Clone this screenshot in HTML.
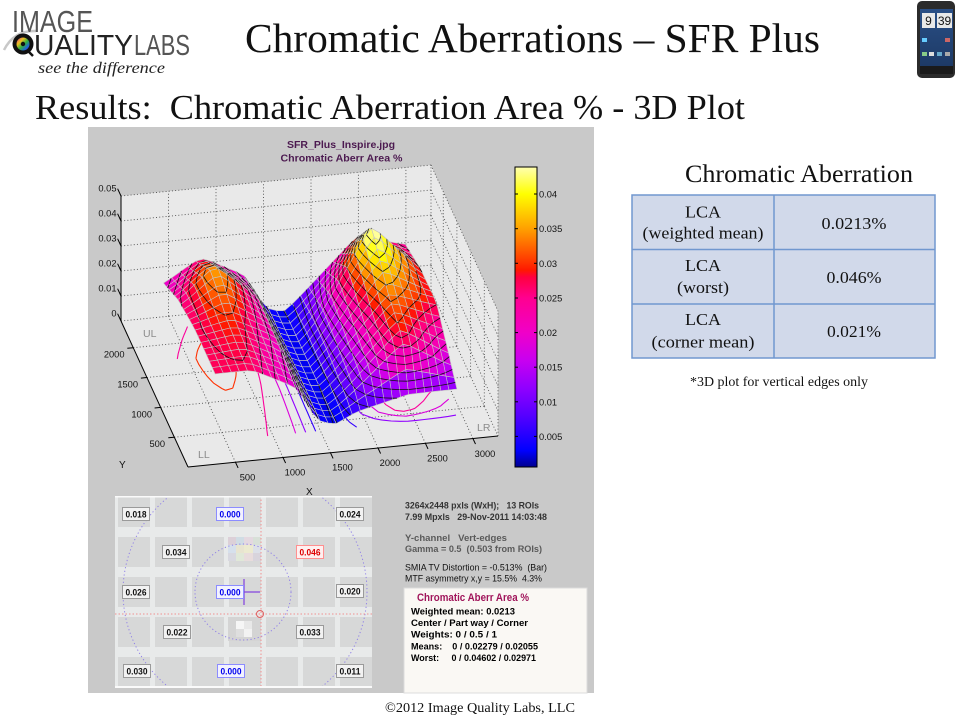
<!DOCTYPE html>
<html><head><meta charset="utf-8"><style>
html,body{margin:0;padding:0;background:#fff;}
body{width:960px;height:720px;overflow:hidden;}
svg{display:block;}
text{font-family:"Liberation Sans",Arial,sans-serif;}
.serif{font-family:"Liberation Serif","Times New Roman",serif;}
.pre{white-space:pre;}
</style></head><body>
<svg id="s" width="960" height="720" viewBox="0 0 960 720" xmlns="http://www.w3.org/2000/svg">
<defs>
 <linearGradient id="cb" x1="0" y1="0" x2="0" y2="1">
  <stop offset="0" stop-color="#ffffb0"/>
  <stop offset="0.09" stop-color="#ffff00"/>
  <stop offset="0.2055" stop-color="#ffa000"/>
  <stop offset="0.321" stop-color="#ff3000"/>
  <stop offset="0.344" stop-color="#ff1800"/>
  <stop offset="0.367" stop-color="#ff0040"/>
  <stop offset="0.4365" stop-color="#ff0090"/>
  <stop offset="0.552" stop-color="#f000c8"/>
  <stop offset="0.644" stop-color="#c800f0"/>
  <stop offset="0.737" stop-color="#9000ff"/>
  <stop offset="0.829" stop-color="#5500ff"/>
  <stop offset="0.9446" stop-color="#0000ff"/>
  <stop offset="1" stop-color="#000090"/>
 </linearGradient>
 <linearGradient id="iris" x1="0" y1="0" x2="1" y2="1">
  <stop offset="0" stop-color="#e03090"/>
  <stop offset="0.3" stop-color="#f0c020"/>
  <stop offset="0.55" stop-color="#30b040"/>
  <stop offset="0.8" stop-color="#2060e0"/>
  <stop offset="1" stop-color="#8030c0"/>
 </linearGradient>
 <linearGradient id="scr" x1="0" y1="0" x2="0" y2="1">
  <stop offset="0" stop-color="#2a4f86"/>
  <stop offset="1" stop-color="#1d3a66"/>
 </linearGradient>
 <clipPath id="imgclip"><rect x="115" y="496" width="257" height="192"/></clipPath>
</defs>

<!-- Logo -->
<path d="M4,50 Q14,30 36,31" stroke="#c8c8c8" stroke-width="2.5" fill="none"/>
<text x="12" y="32" font-size="31" fill="#555" textLength="81" lengthAdjust="spacingAndGlyphs">IMAGE</text>
<circle cx="23" cy="44" r="10.5" fill="#111"/>
<circle cx="23" cy="44" r="6.5" fill="url(#iris)"/>
<circle cx="23" cy="44" r="2.2" fill="#111"/>
<path d="M28,51 L33,56" stroke="#111" stroke-width="2.5"/>
<text x="34" y="55" font-size="29" fill="#222" textLength="99" lengthAdjust="spacingAndGlyphs">UALITY</text>
<text x="134" y="55" font-size="29" fill="#555" textLength="56" lengthAdjust="spacingAndGlyphs">LABS</text>
<text class="serif" x="38" y="73" font-size="16" font-style="italic" fill="#222" textLength="127" lengthAdjust="spacingAndGlyphs">see the difference</text>

<!-- Phone -->
<rect x="917" y="1" width="38" height="77" rx="5" fill="#2b2b2b"/>
<rect x="920" y="9" width="33" height="57" fill="url(#scr)"/>
<rect x="922" y="13" width="13" height="15" fill="#e8e8e8"/>
<text x="928.5" y="25" font-size="12" text-anchor="middle" fill="#111">9</text>
<rect x="937" y="13" width="15" height="15" fill="#e8e8e8"/>
<text x="944.5" y="25" font-size="12" text-anchor="middle" fill="#111">39</text>
<rect x="922" y="38" width="5" height="4" fill="#6cf"/><rect x="945" y="38" width="5" height="4" fill="#c66"/>
<rect x="922" y="52" width="5" height="4" fill="#8c8"/><rect x="929" y="52" width="5" height="4" fill="#ddd"/><rect x="937" y="52" width="5" height="4" fill="#6ac"/><rect x="945" y="52" width="5" height="4" fill="#aaa"/>
<rect x="920" y="66" width="33" height="8" fill="#1a1a1a"/>

<!-- Titles -->
<text class="serif" x="245" y="52" font-size="41" fill="#111" textLength="575" lengthAdjust="spacingAndGlyphs">Chromatic Aberrations – SFR Plus</text>
<text class="serif pre" x="35" y="119" font-size="35" fill="#111" textLength="710" lengthAdjust="spacingAndGlyphs">Results:  Chromatic Aberration Area % - 3D Plot</text>

<!-- Plot panel -->
<rect x="88" y="127" width="506" height="566" fill="#c9c9c9"/>
<g id="walls"></g>
<g font-size="10.5" fill="#8c8c8c">
 <text x="143" y="337">UL</text>
 <text x="198" y="458">LL</text>
 <text x="477" y="431">LR</text>
 <text x="422" y="309">UR</text>
</g>
<g id="floorc"></g>
<g id="surf"></g>
<g id="axes"></g>
<g font-size="9.3" fill="#111">
 <text x="116.5" y="191.5" text-anchor="end">0.05</text>
 <text x="116.5" y="216.5" text-anchor="end">0.04</text>
 <text x="116.5" y="241.5" text-anchor="end">0.03</text>
 <text x="116.5" y="266.5" text-anchor="end">0.02</text>
 <text x="116.5" y="291.5" text-anchor="end">0.01</text>
 <text x="116.5" y="316.5" text-anchor="end">0</text>
 <text x="165" y="447" text-anchor="end">500</text>
 <text x="152" y="417.5" text-anchor="end">1000</text>
 <text x="138" y="387.5" text-anchor="end">1500</text>
 <text x="124.5" y="357.5" text-anchor="end">2000</text>
 <text x="247.5" y="480.5" text-anchor="middle">500</text>
 <text x="295" y="475.5" text-anchor="middle">1000</text>
 <text x="342.5" y="470.5" text-anchor="middle">1500</text>
 <text x="390" y="466" text-anchor="middle">2000</text>
 <text x="437.5" y="461.5" text-anchor="middle">2500</text>
 <text x="485" y="457" text-anchor="middle">3000</text>
 <text x="119" y="468" font-size="10">Y</text>
 <text x="306" y="495" font-size="10">X</text>
</g>
<text x="341" y="148" font-size="10.5" font-weight="bold" fill="#4c1a50" text-anchor="middle" textLength="108" lengthAdjust="spacingAndGlyphs">SFR_Plus_Inspire.jpg</text>
<text x="341.5" y="161.5" font-size="10.5" font-weight="bold" fill="#4c1a50" text-anchor="middle" textLength="122" lengthAdjust="spacingAndGlyphs">Chromatic Aberr Area %</text>

<!-- Colorbar -->
<rect x="515" y="167" width="22" height="300" fill="url(#cb)" stroke="#000" stroke-width="1"/>
<g stroke="#000" stroke-width="1">
 <line x1="515" y1="194" x2="518" y2="194"/><line x1="534" y1="194" x2="537" y2="194"/>
 <line x1="515" y1="228.7" x2="518" y2="228.7"/><line x1="534" y1="228.7" x2="537" y2="228.7"/>
 <line x1="515" y1="263.3" x2="518" y2="263.3"/><line x1="534" y1="263.3" x2="537" y2="263.3"/>
 <line x1="515" y1="298" x2="518" y2="298"/><line x1="534" y1="298" x2="537" y2="298"/>
 <line x1="515" y1="332.6" x2="518" y2="332.6"/><line x1="534" y1="332.6" x2="537" y2="332.6"/>
 <line x1="515" y1="367.2" x2="518" y2="367.2"/><line x1="534" y1="367.2" x2="537" y2="367.2"/>
 <line x1="515" y1="401.8" x2="518" y2="401.8"/><line x1="534" y1="401.8" x2="537" y2="401.8"/>
 <line x1="515" y1="436.4" x2="518" y2="436.4"/><line x1="534" y1="436.4" x2="537" y2="436.4"/>
</g>
<g font-size="9.3" fill="#111">
 <text x="539" y="197.5">0.04</text>
 <text x="539" y="232.2">0.035</text>
 <text x="539" y="266.8">0.03</text>
 <text x="539" y="301.5">0.025</text>
 <text x="539" y="336.1">0.02</text>
 <text x="539" y="370.7">0.015</text>
 <text x="539" y="405.3">0.01</text>
 <text x="539" y="439.9">0.005</text>
</g>

<!-- Chart image panel -->
<g clip-path="url(#imgclip)">
 <rect x="115" y="496" width="257" height="192" fill="#e8eaea"/>
 <g id="sq" fill="#d7d8d8"></g>
 <g>
  <rect x="228" y="537" width="8" height="8" fill="#dcd0d8"/><rect x="236" y="537" width="8" height="8" fill="#d0dce4"/><rect x="244" y="537" width="9" height="8" fill="#e4d8e0"/><rect x="253" y="537" width="8" height="8" fill="#d8e0d8"/>
  <rect x="228" y="545" width="8" height="8" fill="#d6e0ec"/><rect x="236" y="545" width="8" height="8" fill="#e8e4d0"/><rect x="244" y="545" width="9" height="8" fill="#ecead0"/><rect x="253" y="545" width="8" height="8" fill="#dce0e8"/>
  <rect x="228" y="553" width="8" height="8" fill="#d8d8e0"/><rect x="236" y="553" width="8" height="8" fill="#e0e8d8"/><rect x="244" y="553" width="9" height="8" fill="#e8dcdc"/><rect x="253" y="553" width="8" height="8" fill="#d8d4dc"/>
  <rect x="228" y="617" width="33" height="24" fill="#d4d4d4"/>
  <rect x="236" y="621" width="8" height="8" fill="#f6f6f6"/><rect x="244" y="621" width="8" height="8" fill="#e8e8e8"/><rect x="236" y="629" width="8" height="8" fill="#dedede"/><rect x="244" y="629" width="8" height="8" fill="#f2f2f2"/>
 </g>
 <circle cx="245" cy="592" r="122" fill="none" stroke="#9080e8" stroke-width="1" stroke-dasharray="1.2 2.5"/>
 <circle cx="243" cy="592" r="48" fill="none" stroke="#9080e8" stroke-width="1" stroke-dasharray="1.2 2.5"/>
 <line x1="261" y1="496" x2="261" y2="688" stroke="#f09090" stroke-width="1" stroke-dasharray="1.5 2"/>
 <line x1="115" y1="614" x2="372" y2="614" stroke="#f09090" stroke-width="1" stroke-dasharray="1.5 2"/>
 <circle cx="260" cy="614" r="3.5" fill="none" stroke="#e06060" stroke-width="1"/>
 <line x1="244" y1="579" x2="244" y2="605" stroke="#8040e0" stroke-width="1.2"/>
 <line x1="244" y1="592" x2="260" y2="592" stroke="#8040e0" stroke-width="1.2"/>
 <rect x="115" y="495" width="257" height="2.5" fill="#fafafa"/>
 <rect x="115" y="686" width="257" height="2.5" fill="#fafafa"/>
</g>
<g id="lbls" font-size="9.5" font-weight="bold" text-anchor="middle"></g>

<!-- Text area -->
<g font-size="9.5">
 <text class="pre" x="405" y="508.5" font-weight="bold" fill="#333" textLength="134" lengthAdjust="spacingAndGlyphs">3264x2448 pxls (WxH);   13 ROIs</text>
 <text class="pre" x="405" y="520" font-weight="bold" fill="#333" textLength="142" lengthAdjust="spacingAndGlyphs">7.99 Mpxls   29-Nov-2011 14:03:48</text>
 <text class="pre" x="405" y="541" font-weight="bold" fill="#5a5a5a" textLength="102" lengthAdjust="spacingAndGlyphs">Y-channel   Vert-edges</text>
 <text class="pre" x="405" y="552" font-weight="bold" fill="#5a5a5a" textLength="137" lengthAdjust="spacingAndGlyphs">Gamma = 0.5  (0.503 from ROIs)</text>
 <text class="pre" x="405" y="570.5" fill="#111" textLength="142" lengthAdjust="spacingAndGlyphs">SMIA TV Distortion = -0.513%  (Bar)</text>
 <text class="pre" x="405" y="581.5" fill="#111" textLength="137" lengthAdjust="spacingAndGlyphs">MTF asymmetry x,y = 15.5%  4.3%</text>
</g>
<rect x="404" y="588" width="183" height="105" fill="#faf8f4" stroke="#dcdcdc" stroke-width="1"/>
<text x="417" y="601" font-size="11" font-weight="bold" fill="#a0145a" textLength="112" lengthAdjust="spacingAndGlyphs">Chromatic Aberr Area %</text>
<g font-size="9.5" font-weight="bold" fill="#000">
 <text x="411" y="614.5" textLength="104" lengthAdjust="spacingAndGlyphs">Weighted mean: 0.0213</text>
 <text x="411" y="626" textLength="117" lengthAdjust="spacingAndGlyphs">Center / Part way / Corner</text>
 <text x="411" y="637.5" textLength="86" lengthAdjust="spacingAndGlyphs">Weights: 0 / 0.5 / 1</text>
 <text class="pre" x="411" y="649.5" textLength="127" lengthAdjust="spacingAndGlyphs">Means:    0 / 0.02279 / 0.02055</text>
 <text class="pre" x="411" y="661" textLength="125" lengthAdjust="spacingAndGlyphs">Worst:     0 / 0.04602 / 0.02971</text>
</g>

<!-- Table -->
<text class="serif" x="685" y="182" font-size="25" fill="#111" textLength="228" lengthAdjust="spacingAndGlyphs">Chromatic Aberration</text>
<rect x="632" y="195" width="303" height="163" fill="#d1d9ea"/>
<g stroke="#7197cf" stroke-width="1.5" fill="none">
 <rect x="632" y="195" width="303" height="163"/>
 <line x1="632" y1="249.5" x2="935" y2="249.5"/>
 <line x1="632" y1="304" x2="935" y2="304"/>
 <line x1="774" y1="195" x2="774" y2="358"/>
</g>
<g class="serif" font-size="17" fill="#111" text-anchor="middle">
 <text class="serif" x="703" y="217.5" textLength="36" lengthAdjust="spacingAndGlyphs">LCA</text>
 <text class="serif" x="703" y="238.5" textLength="121" lengthAdjust="spacingAndGlyphs">(weighted mean)</text>
 <text class="serif" x="703" y="271" textLength="36" lengthAdjust="spacingAndGlyphs">LCA</text>
 <text class="serif" x="703" y="293" textLength="52" lengthAdjust="spacingAndGlyphs">(worst)</text>
 <text class="serif" x="703" y="325" textLength="36" lengthAdjust="spacingAndGlyphs">LCA</text>
 <text class="serif" x="703" y="347.5" textLength="103" lengthAdjust="spacingAndGlyphs">(corner mean)</text>
 <text class="serif" x="854" y="229" textLength="65" lengthAdjust="spacingAndGlyphs">0.0213%</text>
 <text class="serif" x="854" y="283" textLength="55" lengthAdjust="spacingAndGlyphs">0.046%</text>
 <text class="serif" x="854" y="337" textLength="54" lengthAdjust="spacingAndGlyphs">0.021%</text>
</g>
<text class="serif" x="690" y="386" font-size="14" fill="#111" textLength="178" lengthAdjust="spacingAndGlyphs">*3D plot for vertical edges only</text>

<!-- Footer -->
<text class="serif" x="385" y="712" font-size="14" fill="#111" textLength="190" lengthAdjust="spacingAndGlyphs">©2012 Image Quality Labs, LLC</text>
</svg>

<script>
(function(){
const NS='http://www.w3.org/2000/svg';
function el(tag,attrs,parent){const e=document.createElementNS(NS,tag);for(const k in attrs)e.setAttribute(k,attrs[k]);parent.appendChild(e);return e;}
function P(a,b,z){return [188+310*a-67*b, 467-31*a-146*b-2500*z];}
function f(p){return p[0].toFixed(1)+','+p[1].toFixed(1);}
function L(p,q,st,parent){el('line',Object.assign({x1:p[0].toFixed(1),y1:p[1].toFixed(1),x2:q[0].toFixed(1),y2:q[1].toFixed(1)},st),parent);}

// walls
const walls=document.getElementById('walls');
el('path',{d:'M'+f(P(0,0,0))+'L'+f(P(1,0,0))+'L'+f(P(1,0,0.05))+'L'+f(P(1,1,0.05))+'L'+f(P(0,1,0.05))+'L'+f(P(0,1,0))+'Z',fill:'#e9e9e9'},walls);
const dot={stroke:'#505050','stroke-width':0.9,'stroke-dasharray':'1 2.2',fill:'none'};
const zs=[0,0.01,0.02,0.03,0.04,0.05];
const as=[1,2,3,4,5,6].map(k=>k*500/3264);
const bs=[1,2,3,4].map(k=>k*500/2448);
zs.forEach(z=>{L(P(0,1,z),P(1,1,z),dot,walls);L(P(1,1,z),P(1,0,z),dot,walls);});
as.forEach(a=>{L(P(a,1,0),P(a,1,0.05),dot,walls);L(P(a,0,0),P(a,1,0),dot,walls);});
bs.forEach(b=>{L(P(1,b,0),P(1,b,0.05),dot,walls);L(P(0,b,0),P(1,b,0),dot,walls);});
L(P(1,0,0),P(1,0,0.05),dot,walls);
L(P(1,1,0),P(1,1,0.05),dot,walls);

// axes
const ax=document.getElementById('axes');
const sol={stroke:'#000','stroke-width':1};
L(P(0,1,0),P(0,1,0.05),sol,ax);
L(P(0,0,0),P(0,1,0),sol,ax);
L(P(0,0,0),P(1,0,0),sol,ax);
zs.forEach(z=>{const p=P(0,1,z);L(p,[p[0]-3.4,p[1]-7.3],sol,ax);});
bs.forEach(b=>{const p=P(0,b,0);L(p,[p[0]-6,p[1]+0.6],sol,ax);});
as.forEach(a=>{const p=P(a,0,0);L(p,[p[0]+2.6,p[1]+5.6],sol,ax);});

// colormap
const CS=[[0.0006,[0,0,144]],[0.003,[0,0,255]],[0.008,[85,0,255]],[0.012,[144,0,255]],[0.016,[200,0,240]],[0.02,[240,0,200]],[0.025,[255,0,144]],[0.028,[255,0,64]],[0.029,[255,24,0]],[0.03,[255,48,0]],[0.035,[255,160,0]],[0.04,[255,255,0]],[0.0439,[255,255,176]]];
function cmap(z){
 if(z<=CS[0][0])return 'rgb('+CS[0][1].join(',')+')';
 for(let i=0;i<CS.length-1;i++){ if(z<=CS[i+1][0]){ const t=(z-CS[i][0])/(CS[i+1][0]-CS[i][0]); const c=CS[i][1].map((v,k)=>Math.round(v+(CS[i+1][1][k]-v)*t)); return 'rgb('+c.join(',')+')'; } }
 return 'rgb('+CS[CS.length-1][1].join(',')+')';
}

// surface model
const U=[0,0.154,0.34,0.42,0.50,0.58,0.80,1];
const V=[0,0.12,0.4,0.72,1];
const Zc=[
[0.027,0.027,0.018,0.004,0.002,0.006,0.010,0.011],
[0.027,0.028,0.019,0.004,0.002,0.008,0.029,0.016],
[0.027,0.030,0.021,0.004,0.002,0.010,0.034,0.028],
[0.024,0.037,0.021,0.004,0.002,0.011,0.047,0.027],
[0.018,0.027,0.018,0.004,0.002,0.009,0.029,0.024]];
function seg(arr,t){for(let i=0;i<arr.length-1;i++){if(t<=arr[i+1]||i==arr.length-2)return [i,(t-arr[i])/(arr[i+1]-arr[i])];}}
function zf(u,v){const [i,fu]=seg(U,u);const [j,fv]=seg(V,v);const z00=Zc[j][i],z10=Zc[j][i+1],z01=Zc[j+1][i],z11=Zc[j+1][i+1];return (z00*(1-fu)+z10*fu)*(1-fv)+(z01*(1-fu)+z11*fu)*fv;}
const NU=30,NV=18;
let G=[];for(let j=0;j<=NV;j++){G[j]=[];for(let i=0;i<=NU;i++)G[j][i]=zf(i/NU,j/NV);}
let H=[];for(let j=0;j<=NV;j++){H[j]=[];for(let i=0;i<=NU;i++){const n=G[Math.max(j-1,0)][i]+G[Math.min(j+1,NV)][i]+G[j][Math.max(i-1,0)]+G[j][Math.min(i+1,NU)];H[j][i]=0.5*G[j][i]+0.125*n;}}
G=H;
function A(i){return 0.12+0.78*i/NU;}
function B(j){return 0.15+0.77*j/NV;}

// floor contours
const fc=document.getElementById('floorc');
const flevels=[0.006,0.012,0.018,0.024,0.030,0.036,0.042];
flevels.forEach(lv=>{
 let d='';
 for(let j=0;j<NV;j++)for(let i=0;i<NU;i++){
  const pts=[[i,j],[i+1,j],[i+1,j+1],[i,j+1]].map(([ii,jj])=>({a:A(ii),b:B(jj),z:G[jj][ii]}));
  const cr=[];
  for(let k=0;k<4;k++){const p=pts[k],q=pts[(k+1)%4];if((p.z-lv)*(q.z-lv)<0){const t=(lv-p.z)/(q.z-p.z);cr.push(P(p.a+(q.a-p.a)*t,p.b+(q.b-p.b)*t,0));}}
  if(cr.length>=2){d+='M'+f(cr[0])+'L'+f(cr[1]);if(cr.length==4)d+='M'+f(cr[2])+'L'+f(cr[3]);}
 }
 if(d)el('path',{d:d,stroke:cmap(lv),'stroke-width':1.1,fill:'none'},fc);
});

// surface quads
const surf=document.getElementById('surf');
const quads=[];
for(let j=0;j<NV;j++)for(let i=0;i<NU;i++)quads.push({i:i,j:j,d:31*(A(i)+A(i+1))/2+146*(B(j)+B(j+1))/2});
quads.sort((p,q)=>q.d-p.d);
quads.forEach(qd=>{
 const i=qd.i,j=qd.j;
 const pts=[[i,j],[i+1,j],[i+1,j+1],[i,j+1]].map(([ii,jj])=>({a:A(ii),b:B(jj),z:G[jj][ii]}));
 const za=(pts[0].z+pts[1].z+pts[2].z+pts[3].z)/4;
 el('path',{d:'M'+pts.map(p=>f(P(p.a,p.b,p.z))).join('L')+'Z',fill:cmap(za),stroke:'#c4c4c4','stroke-width':0.6,'stroke-linejoin':'round'},surf);
 let cd='';
 for(let k=1;k<=18;k++){
  const lv=k*0.0025;const cr=[];
  for(let m=0;m<4;m++){const p=pts[m],q=pts[(m+1)%4];if((p.z-lv)*(q.z-lv)<0){const t=(lv-p.z)/(q.z-p.z);cr.push(P(p.a+(q.a-p.a)*t,p.b+(q.b-p.b)*t,lv));}}
  if(cr.length>=2){cd+='M'+f(cr[0])+'L'+f(cr[1]);if(cr.length==4)cd+='M'+f(cr[2])+'L'+f(cr[3]);}
 }
 if(cd)el('path',{d:cd,stroke:'#111','stroke-width':0.8,fill:'none'},surf);
});

// chart squares
const sq=document.getElementById('sq');
[134,171,208,245,282,319,356].forEach(cx=>{[512,552,592,632,672].forEach(cy=>{el('rect',{x:cx-16,y:cy-15,width:32,height:30},sq);});});

// labels
const lb=document.getElementById('lbls');
const L2=[[136,514,'0.018','k'],[230,514,'0.000','b'],[350,514,'0.024','k'],[176,552,'0.034','k'],[310,552,'0.046','r'],[136,592,'0.026','k'],[230,592,'0.000','b'],[350,591,'0.020','k'],[177,632,'0.022','k'],[310,632,'0.033','k'],[137,671,'0.030','k'],[231,671,'0.000','b'],[350,671,'0.011','k']];
L2.forEach(([x,y,t,c])=>{
 const st={k:['#f2f2f2','#9a9a9a','#111'],b:['#f2f2ff','#8c8cff','#0000ee'],r:['#fff0f0','#ff9090','#dd0000']}[c];
 el('rect',{x:x-13.5,y:y-6.5,width:27,height:13,fill:st[0],stroke:st[1],'stroke-width':1},lb);
 const tx=el('text',{x:x,y:y+3.4,fill:st[2],textLength:21,lengthAdjust:'spacingAndGlyphs'},lb);
 tx.textContent=t;
});
})();
</script>
</body></html>
